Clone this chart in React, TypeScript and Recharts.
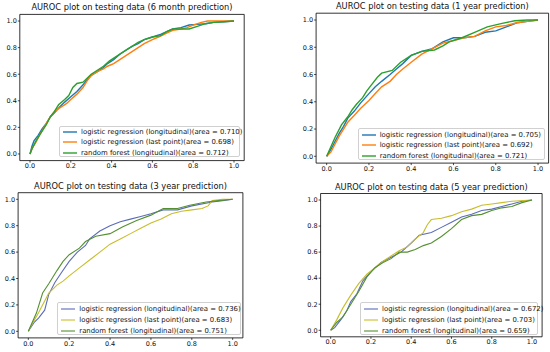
import React from 'react'
import { LineChart, Line, XAxis, YAxis, ReferenceArea } from 'recharts'

type Pt = [number, number]

// FPR / TPR pairs
const m6LogLong: Pt[] = [[0, 0], [0.01, 0.06], [0.02, 0.1], [0.04, 0.14], [0.06, 0.19], [0.08, 0.23], [0.1, 0.28], [0.12, 0.31], [0.15, 0.36], [0.17, 0.39], [0.2, 0.43], [0.23, 0.47], [0.26, 0.52], [0.28, 0.56], [0.3, 0.59], [0.33, 0.62], [0.36, 0.65], [0.38, 0.68], [0.41, 0.71], [0.44, 0.75], [0.47, 0.78], [0.5, 0.81], [0.53, 0.83], [0.56, 0.86], [0.6, 0.88], [0.64, 0.9], [0.67, 0.92], [0.7, 0.94], [0.74, 0.95], [0.78, 0.97], [0.82, 0.975], [0.86, 0.98], [0.9, 0.99], [0.95, 0.995], [1, 1]]
const m6LogLast: Pt[] = [[0, 0], [0.01, 0.04], [0.03, 0.09], [0.05, 0.15], [0.08, 0.23], [0.1, 0.28], [0.12, 0.32], [0.15, 0.35], [0.18, 0.38], [0.2, 0.41], [0.23, 0.45], [0.26, 0.5], [0.28, 0.55], [0.3, 0.59], [0.33, 0.62], [0.36, 0.64], [0.38, 0.66], [0.41, 0.68], [0.44, 0.71], [0.47, 0.74], [0.5, 0.77], [0.53, 0.8], [0.56, 0.83], [0.6, 0.86], [0.63, 0.88], [0.67, 0.91], [0.7, 0.93], [0.74, 0.94], [0.77, 0.95], [0.8, 0.97], [0.84, 0.99], [0.87, 1], [0.92, 1], [1, 1]]
const m6Forest: Pt[] = [[0, 0], [0.01, 0.04], [0.03, 0.1], [0.05, 0.15], [0.08, 0.22], [0.1, 0.28], [0.12, 0.32], [0.14, 0.37], [0.17, 0.41], [0.19, 0.44], [0.21, 0.5], [0.23, 0.53], [0.26, 0.54], [0.28, 0.57], [0.3, 0.6], [0.33, 0.63], [0.36, 0.66], [0.39, 0.7], [0.42, 0.73], [0.45, 0.76], [0.48, 0.79], [0.5, 0.81], [0.53, 0.84], [0.56, 0.86], [0.6, 0.88], [0.64, 0.89], [0.67, 0.92], [0.7, 0.94], [0.74, 0.94], [0.78, 0.94], [0.82, 0.96], [0.86, 0.98], [0.9, 0.99], [0.95, 0.995], [1, 1]]

const y1LogLong: Pt[] = [[0, 0], [0.02, 0.05], [0.04, 0.11], [0.06, 0.17], [0.08, 0.22], [0.1, 0.28], [0.13, 0.33], [0.16, 0.39], [0.2, 0.46], [0.23, 0.51], [0.26, 0.55], [0.3, 0.6], [0.33, 0.64], [0.36, 0.68], [0.4, 0.74], [0.45, 0.77], [0.5, 0.79], [0.55, 0.84], [0.6, 0.87], [0.65, 0.87], [0.7, 0.88], [0.75, 0.91], [0.8, 0.92], [0.85, 0.95], [0.9, 0.98], [0.95, 0.99], [1, 1]]
const y1LogLast: Pt[] = [[0, 0], [0.02, 0.03], [0.04, 0.09], [0.06, 0.15], [0.08, 0.2], [0.1, 0.25], [0.13, 0.3], [0.16, 0.35], [0.2, 0.41], [0.23, 0.46], [0.26, 0.51], [0.3, 0.55], [0.33, 0.6], [0.36, 0.64], [0.4, 0.69], [0.45, 0.75], [0.5, 0.79], [0.55, 0.83], [0.6, 0.85], [0.65, 0.87], [0.7, 0.88], [0.75, 0.92], [0.8, 0.95], [0.85, 0.96], [0.9, 0.98], [0.95, 0.99], [1, 1]]
const y1Forest: Pt[] = [[0, 0], [0.02, 0.07], [0.04, 0.14], [0.07, 0.23], [0.1, 0.29], [0.12, 0.34], [0.14, 0.38], [0.17, 0.43], [0.19, 0.48], [0.21, 0.52], [0.24, 0.58], [0.26, 0.61], [0.31, 0.63], [0.35, 0.69], [0.4, 0.74], [0.45, 0.77], [0.51, 0.78], [0.55, 0.81], [0.58, 0.84], [0.64, 0.87], [0.7, 0.91], [0.76, 0.95], [0.83, 0.975], [0.89, 0.995], [0.95, 1], [1, 1]]

const y3LogLong: Pt[] = [[0, 0], [0.03, 0.07], [0.05, 0.1], [0.08, 0.16], [0.1, 0.28], [0.13, 0.37], [0.16, 0.44], [0.2, 0.53], [0.24, 0.6], [0.28, 0.65], [0.3, 0.7], [0.35, 0.76], [0.4, 0.8], [0.45, 0.83], [0.5, 0.85], [0.55, 0.87], [0.6, 0.89], [0.66, 0.92], [0.73, 0.92], [0.8, 0.95], [0.9, 0.98], [0.95, 0.99], [1, 1]]
const y3LogLast: Pt[] = [[0, 0], [0.02, 0.06], [0.05, 0.14], [0.08, 0.23], [0.1, 0.29], [0.14, 0.35], [0.17, 0.38], [0.2, 0.42], [0.25, 0.48], [0.3, 0.54], [0.35, 0.6], [0.4, 0.66], [0.45, 0.7], [0.5, 0.74], [0.55, 0.78], [0.6, 0.82], [0.65, 0.85], [0.7, 0.89], [0.75, 0.91], [0.8, 0.92], [0.85, 0.93], [0.88, 0.95], [0.9, 0.99], [0.95, 1], [1, 1]]
const y3Forest: Pt[] = [[0, 0], [0.02, 0.07], [0.04, 0.14], [0.07, 0.29], [0.1, 0.36], [0.14, 0.46], [0.17, 0.53], [0.2, 0.58], [0.25, 0.63], [0.28, 0.68], [0.33, 0.72], [0.4, 0.74], [0.46, 0.79], [0.53, 0.84], [0.6, 0.88], [0.66, 0.93], [0.73, 0.93], [0.79, 0.955], [0.87, 0.98], [0.93, 0.99], [1, 1]]

const y5LogLong: Pt[] = [[0, 0], [0.02, 0.02], [0.05, 0.08], [0.08, 0.15], [0.1, 0.22], [0.13, 0.28], [0.16, 0.38], [0.2, 0.45], [0.25, 0.52], [0.3, 0.56], [0.35, 0.6], [0.4, 0.67], [0.44, 0.73], [0.5, 0.75], [0.55, 0.79], [0.6, 0.83], [0.65, 0.87], [0.7, 0.89], [0.75, 0.92], [0.8, 0.93], [0.85, 0.95], [0.9, 0.97], [0.95, 0.99], [1, 1]]
const y5LogLast: Pt[] = [[0, 0], [0.03, 0.08], [0.06, 0.17], [0.1, 0.27], [0.14, 0.36], [0.18, 0.43], [0.22, 0.48], [0.26, 0.53], [0.3, 0.57], [0.34, 0.61], [0.38, 0.64], [0.42, 0.7], [0.46, 0.75], [0.48, 0.81], [0.5, 0.85], [0.55, 0.86], [0.6, 0.88], [0.65, 0.91], [0.7, 0.93], [0.75, 0.96], [0.8, 0.97], [0.85, 0.98], [0.9, 0.99], [1, 1]]
const y5Forest: Pt[] = [[0, 0], [0.03, 0.06], [0.06, 0.1], [0.1, 0.2], [0.14, 0.3], [0.18, 0.41], [0.22, 0.48], [0.26, 0.52], [0.3, 0.55], [0.34, 0.6], [0.38, 0.6], [0.42, 0.62], [0.46, 0.65], [0.5, 0.67], [0.55, 0.72], [0.6, 0.78], [0.65, 0.85], [0.7, 0.88], [0.75, 0.89], [0.8, 0.92], [0.85, 0.94], [0.9, 0.95], [0.95, 0.98], [1, 1]]

const seriesNames = [
  'logistic regression (longitudinal)',
  'logistic regression (last point)',
  'random forest (longitudinal)',
]
const m6Areas = ['0.710', '0.698', '0.712']
const y1Areas = ['0.705', '0.692', '0.721']
const y3Areas = ['0.736', '0.683', '0.751']
const y5Areas = ['0.672', '0.703', '0.659']

const ticks = [0, 0.2, 0.4, 0.6, 0.8, 1.0]

const TOP_COLORS = ['#1f77b4', '#ff7f0e', '#2ca02c']
const BOTTOM_COLORS = ['#5b6cb8', '#c9bd2a', '#54902f']
const FONT = '"DejaVu Sans", sans-serif'

type Box = { x0: number; x1: number; y0: number; y1: number }

interface PanelProps {
  left: number
  top: number
  frame: Box
  legend: Box
  titleY: number
  title: string
  curves: Pt[][]
  areas: string[]
  colors: string[]
  lineWidth: number
}

const W = 275
const H = 176

function Panel({ left, top, frame, legend, titleY, title, curves, areas, colors, lineWidth }: PanelProps) {
  const tickStyle = { fontSize: 6.5, fontFamily: FONT, fill: '#111' }
  const rowH = (legend.y1 - legend.y0) / 3
  return (
    <div style={{ position: 'absolute', left, top, width: W, height: H }}>
      <LineChart
        width={W}
        height={H}
        margin={{ top: frame.y0 - top, right: left + W - frame.x1, bottom: 0, left: 0 }}
      >
        <XAxis
          type="number"
          dataKey="x"
          domain={[-0.05, 1.05]}
          ticks={ticks}
          tickFormatter={(v: number) => v.toFixed(1)}
          height={top + H - frame.y1}
          axisLine={false}
          tickSize={2}
          tickMargin={1}
          tick={tickStyle}
          tickLine={{ stroke: '#000', strokeWidth: 0.7 }}
          allowDataOverflow
        />
        <YAxis
          type="number"
          dataKey="y"
          domain={[-0.05, 1.05]}
          ticks={ticks}
          tickFormatter={(v: number) => v.toFixed(1)}
          width={frame.x0 - left}
          axisLine={false}
          tickSize={2}
          tickMargin={1}
          tick={tickStyle}
          tickLine={{ stroke: '#000', strokeWidth: 0.7 }}
          allowDataOverflow
        />
        {curves.map((c, i) => (
          <Line
            key={i}
            data={c.map(([x, y]) => ({ x, y }))}
            dataKey="y"
            type="linear"
            stroke={colors[i]}
            strokeWidth={lineWidth}
            dot={false}
            isAnimationActive={false}
          />
        ))}
        <ReferenceArea x1={-0.05} x2={1.05} y1={-0.05} y2={1.05} fill="none" stroke="#000" strokeWidth={0.8} />
      </LineChart>
      <div
        style={{
          position: 'absolute',
          left: frame.x0 - left - 20,
          width: frame.x1 - frame.x0 + 40,
          top: titleY - top - 6,
          height: 12,
          lineHeight: '12px',
          textAlign: 'center',
          fontFamily: FONT,
          fontSize: 8.25,
          color: '#111',
          whiteSpace: 'nowrap',
        }}
      >
        {title}
      </div>
      <div
        style={{
          position: 'absolute',
          left: legend.x0 - left,
          top: legend.y0 - top,
          width: legend.x1 - legend.x0,
          height: legend.y1 - legend.y0,
          boxSizing: 'border-box',
          border: '0.8px solid #d0d0d0',
          borderRadius: 2,
          background: 'rgba(255,255,255,0.85)',
        }}
      >
        {seriesNames.map((name, i) => (
          <div
            key={i}
            style={{ display: 'flex', alignItems: 'center', height: rowH, fontFamily: FONT, fontSize: 6.9, color: '#111', whiteSpace: 'nowrap' }}
          >
            <svg width={14} height={4} style={{ marginLeft: 3, marginRight: 4, flexShrink: 0 }}>
              <line x1={0} x2={14} y1={2} y2={2} stroke={colors[i]} strokeWidth={lineWidth} />
            </svg>
            <span>{`${name}(area = ${areas[i]})`}</span>
          </div>
        ))}
      </div>
    </div>
  )
}

export default function App() {
  return (
    <div style={{ position: 'absolute', left: 0, top: 0, width: 550, height: 352, background: '#fff', overflow: 'hidden' }}>
      <Panel
        left={0}
        top={0}
        frame={{ x0: 19.8, x1: 244.2, y0: 14.4, y1: 160.6 }}
        legend={{ x0: 59, x1: 240, y0: 126, y1: 156.7 }}
        titleY={7}
        title="AUROC plot on testing data (6 month prediction)"
        curves={[m6LogLong, m6LogLast, m6Forest]}
        areas={m6Areas}
        colors={TOP_COLORS}
        lineWidth={1.4}
      />
      <Panel
        left={275}
        top={0}
        frame={{ x0: 316.1, x1: 548.6, y0: 13.2, y1: 163.1 }}
        legend={{ x0: 357.7, x1: 545, y0: 128.3, y1: 160 }}
        titleY={5.8}
        title="AUROC plot on testing data (1 year prediction)"
        curves={[y1LogLong, y1LogLast, y1Forest]}
        areas={y1Areas}
        colors={TOP_COLORS}
        lineWidth={1.4}
      />
      <Panel
        left={0}
        top={176}
        frame={{ x0: 18.1, x1: 242.9, y0: 192.7, y1: 337.9 }}
        legend={{ x0: 57.3, x1: 240.7, y0: 302, y1: 335.3 }}
        titleY={186}
        title="AUROC plot on testing data (3 year prediction)"
        curves={[y3LogLong, y3LogLast, y3Forest]}
        areas={y3Areas}
        colors={BOTTOM_COLORS}
        lineWidth={1.1}
      />
      <Panel
        left={275}
        top={176}
        frame={{ x0: 320.6, x1: 542.1, y0: 193.5, y1: 336.8 }}
        legend={{ x0: 360, x1: 538.3, y0: 302, y1: 335.3 }}
        titleY={186.7}
        title="AUROC plot on testing data (5 year prediction)"
        curves={[y5LogLong, y5LogLast, y5Forest]}
        areas={y5Areas}
        colors={BOTTOM_COLORS}
        lineWidth={1.1}
      />
    </div>
  )
}
